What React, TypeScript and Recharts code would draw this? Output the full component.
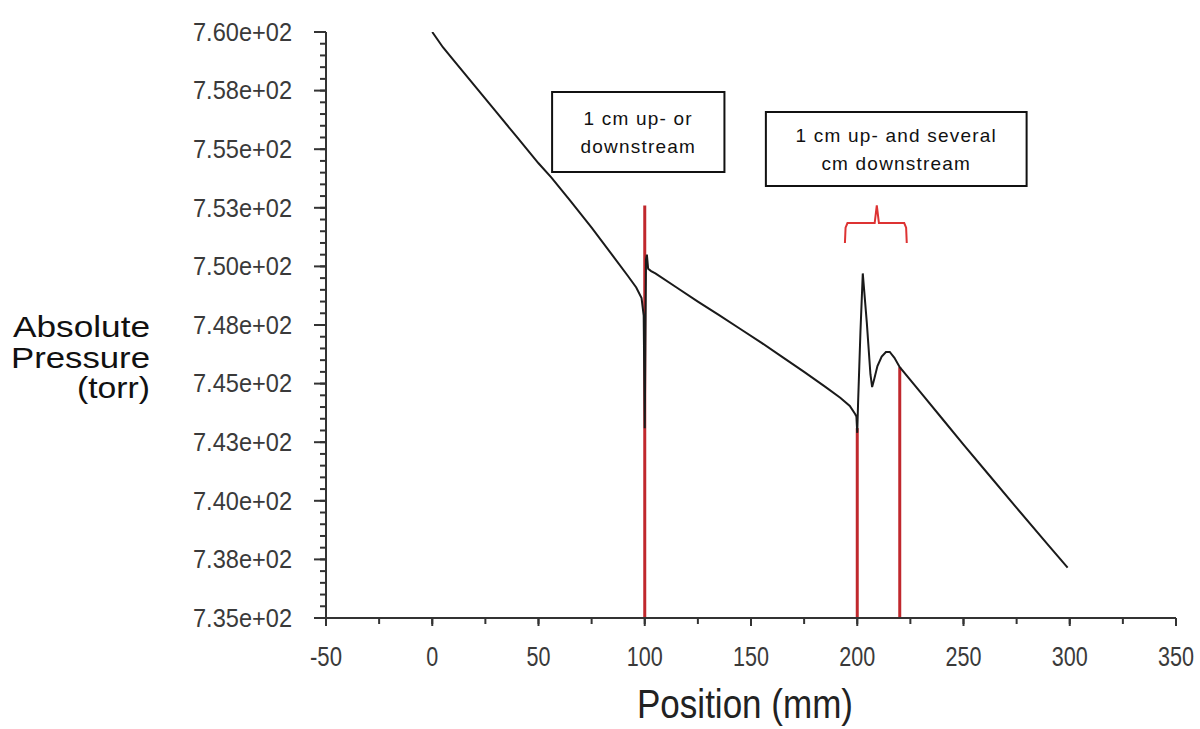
import { LineChart, Line, XAxis, YAxis, ReferenceLine, ReferenceArea } from "recharts";

// pressure profile along the tube (mm, torr)
const positions = [
  0, 5, 10, 20, 30, 40, 50, 56, 65, 75, 85, 92, 96, 98.5, 99.5, 100, 100.6, 101, 101.6, 103,
  105, 115, 125, 135, 145, 155, 165, 175, 185, 192, 196.5, 199, 199.6, 200, 200.4, 201.5,
  202.6, 204.5, 206.2, 207, 208, 209.5, 211.5, 213.5, 215.3, 217.5, 220, 230, 240, 250,
  262, 275, 290, 299,
];
const pressures = [
  760.0, 759.35, 758.8, 757.7, 756.6, 755.5, 754.4, 753.8, 752.8, 751.65, 750.45, 749.6,
  749.1, 748.65, 747.9, 743.1, 750.3, 750.5, 749.9, 749.8,
  749.7, 749.1, 748.5, 747.92, 747.33, 746.74, 746.12, 745.5, 744.86, 744.4, 744.05, 743.7,
  743.6, 742.9, 744.2, 747.2,
  749.7, 747.6, 745.4, 744.85, 745.2, 745.75, 746.15, 746.35, 746.35, 746.1, 745.7, 744.6,
  743.5, 742.4, 741.1, 739.7, 738.1, 737.15,
];

// red probe markers
const probeX = [100, 200, 220];
const probeTop = [752.6, 743.1, 745.7];

// brace over the second probe pair
const braceX = [194.2, 194.5, 195.4, 208.2, 209.2, 210.2, 222.1, 223.0, 223.3];
const braceY = [751.0, 751.65, 751.85, 751.85, 752.6, 751.85, 751.85, 751.65, 751.0];

const xTicks = [-50, 0, 50, 100, 150, 200, 250, 300, 350];
const xMinorTicks = [-50, -25, 0, 25, 50, 75, 100, 125, 150, 175, 200, 225, 250, 275, 300, 325, 350];
const yTicks = [735, 737.5, 740, 742.5, 745, 747.5, 750, 752.5, 755, 757.5, 760];
const yTickLabels = [
  "7.35e+02", "7.38e+02", "7.40e+02", "7.43e+02", "7.45e+02", "7.48e+02",
  "7.50e+02", "7.53e+02", "7.55e+02", "7.58e+02", "7.60e+02",
];
const yMinorTicks = [
  735, 735.5, 736, 736.5, 737, 737.5, 738, 738.5, 739, 739.5, 740, 740.5, 741, 741.5, 742, 742.5,
  743, 743.5, 744, 744.5, 745, 745.5, 746, 746.5, 747, 747.5, 748, 748.5, 749, 749.5, 750, 750.5,
  751, 751.5, 752, 752.5, 753, 753.5, 754, 754.5, 755, 755.5, 756, 756.5, 757, 757.5, 758, 758.5,
  759, 759.5, 760,
];

const noteLines = [["1 cm up- or", "downstream"], ["1 cm up- and several", "cm downstream"]];
const noteX1 = [56.4, 157.0];
const noteX2 = [137.5, 279.7];
const noteYTop = [757.44, 756.59];
const noteYBottom = [754.03, 753.43];

const curve = positions.map((x, i) => ({ x, y: pressures[i] }));
const brace = braceX.map((x, i) => ({ x, y: braceY[i] }));

const SANS = "'Liberation Sans', Arial, sans-serif";
const AXIS = "#333";
const RED = "#c0282d";

const NoteLabel = ({ viewBox, lines }: any) => {
  const { x, y, width, height } = viewBox;
  const cx = x + width / 2;
  const lh = 28;
  const y0 = y + height / 2 - ((lines.length - 1) * lh) / 2;
  return (
    <text textAnchor="middle" fontFamily={SANS} fontSize={19} letterSpacing={1.2} fill="#111">
      {lines.map((l: string, i: number) => (
        <tspan key={i} x={cx} y={y0 + i * lh} dy="0.35em">{l}</tspan>
      ))}
    </text>
  );
};

// narrow-looking tick text, squeezed to the reference widths
const YTick = ({ x, y, payload }: any) => (
  <text x={x} y={y} dy="0.355em" textAnchor="end" fontFamily={SANS} fontSize={25} fill="#3a3a3a"
    textLength={99} lengthAdjust="spacingAndGlyphs">
    {yTickLabels[yTicks.indexOf(payload.value)]}
  </text>
);

const XTick = ({ x, y, payload }: any) => {
  const s = String(payload.value);
  const len = [...s].reduce((a, c) => a + (c === "-" ? 8 : 12), 0);
  return (
    <text x={x} y={y} dy="0.71em" textAnchor="middle" fontFamily={SANS} fontSize={27} fill="#3a3a3a"
      textLength={len} lengthAdjust="spacingAndGlyphs">
      {s}
    </text>
  );
};

const NoTick = () => <g />;

const YTitle = () => (
  <text textAnchor="end" fontFamily={SANS} fontSize={30} fill="#111">
    <tspan x={150} y={337} textLength={137} lengthAdjust="spacingAndGlyphs">Absolute</tspan>
    <tspan x={150} y={368} textLength={139} lengthAdjust="spacingAndGlyphs">Pressure</tspan>
    <tspan x={150} y={398} textLength={73} lengthAdjust="spacingAndGlyphs">(torr)</tspan>
  </text>
);

const XTitle = () => (
  <text x={745} y={718} textAnchor="middle" fontFamily={SANS} fontSize={40} fill="#222"
    textLength={216} lengthAdjust="spacingAndGlyphs">
    Position (mm)
  </text>
);

export default function App() {
  return (
    <div style={{ position: "absolute", left: 0, top: 0, width: 1200, height: 729, background: "#fff" }}>
      <LineChart width={1200} height={729} margin={{ top: 32, right: 24, bottom: 109, left: 324 }}>
        <XAxis type="number" dataKey="x" domain={[-50, 350]} ticks={xTicks} interval={0} height={1}
          tickSize={8} tickMargin={21} allowDataOverflow
          axisLine={{ stroke: AXIS, strokeWidth: 2 }} tickLine={{ stroke: AXIS, strokeWidth: 2 }}
          tick={<XTick />} label={<XTitle />} />
        <XAxis xAxisId="minor" type="number" dataKey="x" domain={[-50, 350]} ticks={xMinorTicks}
          interval={0} tick={NoTick} tickSize={5} axisLine={false} height={1} allowDataOverflow
          tickLine={{ stroke: AXIS, strokeWidth: 2 }} />
        <YAxis type="number" domain={[735, 760]} ticks={yTicks} interval={0} width={1}
          tickSize={12} tickMargin={22} allowDataOverflow
          axisLine={{ stroke: AXIS, strokeWidth: 2 }} tickLine={{ stroke: AXIS, strokeWidth: 2 }}
          tick={<YTick />} label={<YTitle />} />
        <YAxis yAxisId="minor" type="number" domain={[735, 760]} ticks={yMinorTicks} interval={0}
          tick={NoTick} tickSize={5} axisLine={false} width={1} allowDataOverflow
          tickLine={{ stroke: AXIS, strokeWidth: 2 }} />

        {noteLines.map((lines, i) => (
          <ReferenceArea key={i} x1={noteX1[i]} x2={noteX2[i]} y1={noteYBottom[i]} y2={noteYTop[i]}
            fill="#fff" fillOpacity={1} stroke="#111" strokeWidth={2} ifOverflow="visible"
            label={<NoteLabel lines={lines} />} />
        ))}

        {probeX.map((x, i) => (
          <ReferenceLine key={i} segment={[{ x, y: 735 }, { x, y: probeTop[i] }]}
            stroke={RED} strokeWidth={3} />
        ))}

        <Line data={brace} dataKey="y" type="linear" stroke="#dd3333" strokeWidth={2}
          dot={false} isAnimationActive={false} />
        <Line data={curve} dataKey="y" type="linear" stroke="#1a1a1a" strokeWidth={2}
          dot={false} isAnimationActive={false} />
      </LineChart>
    </div>
  );
}
